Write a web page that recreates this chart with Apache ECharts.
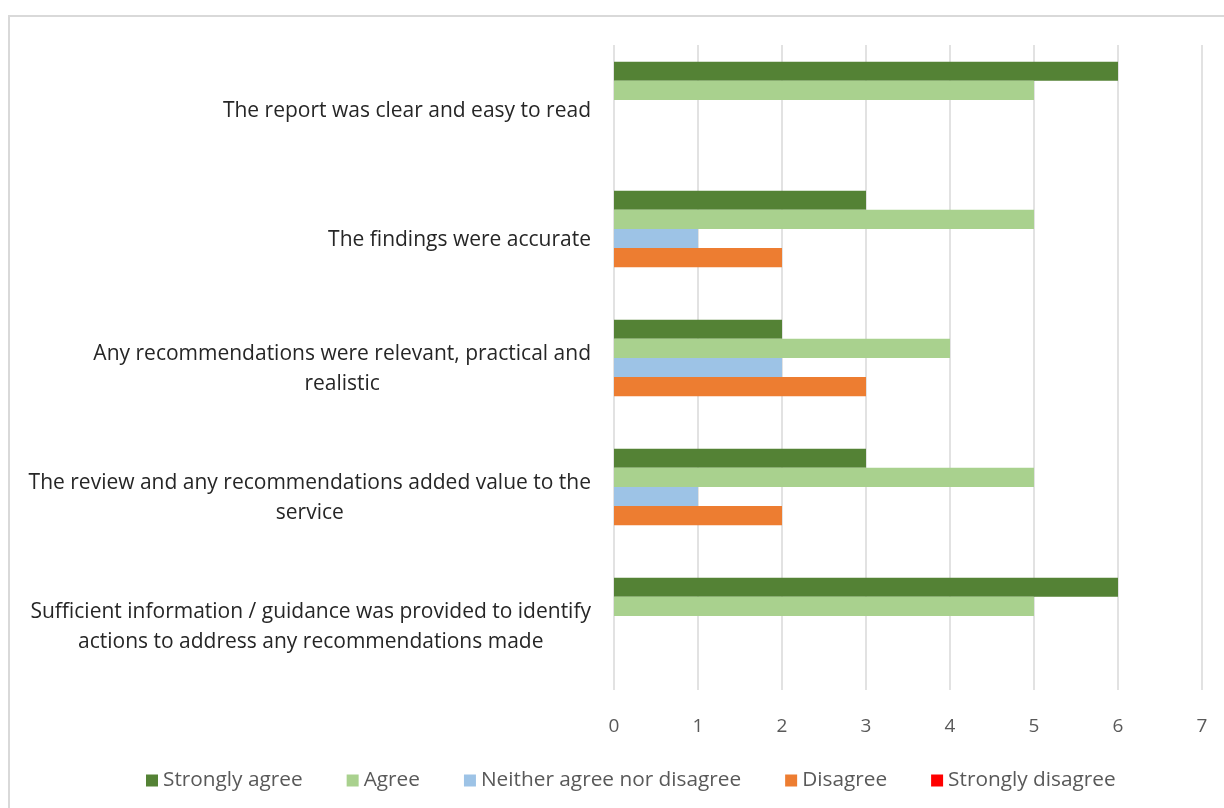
<!DOCTYPE html>
<html>
<head>
<meta charset="utf-8">
<script src="https://cdn.jsdelivr.net/npm/echarts@6/dist/echarts.min.js"></script>
<style>
  html, body { margin: 0; padding: 0; background: #fff; }
  #chart { width: 1224px; height: 808px; }
</style>
</head>
<body>
<div id="chart"></div>
<script>
// Survey statements, listed top to bottom
var categories = [
  'The report was clear and easy to read',
  'The findings were accurate',
  'Any recommendations were relevant, practical and\nrealistic',
  'The review and any recommendations added value to the\nservice',
  'Sufficient information / guidance was provided to identify\nactions to address any recommendations made'
];

// Response counts per statement
var stronglyAgree    = [6, 3, 2, 3, 6];
var agree            = [5, 5, 4, 5, 5];
var neither          = [0, 1, 2, 1, 0];
var disagree         = [0, 2, 3, 2, 0];
var stronglyDisagree = [0, 0, 0, 0, 0];

var xTicks = [0, 1, 2, 3, 4, 5, 6, 7];

var seriesDefs = [
  { name: 'Strongly agree', data: stronglyAgree, color: '#548235' },
  { name: 'Agree', data: agree, color: '#A9D18E' },
  { name: 'Neither agree nor disagree', data: neither, color: '#9DC3E6' },
  { name: 'Disagree', data: disagree, color: '#ED7D31' },
  { name: 'Strongly disagree', data: stronglyDisagree, color: '#FF0000' }
];

var chart = echarts.init(document.getElementById('chart'), null, { renderer: 'canvas' });

var FONT = '"Open Sans", "Noto Sans", sans-serif';

chart.setOption({
  animation: false,
  backgroundColor: '#fff',
  graphic: [{
    type: 'rect',
    shape: { x: 9, y: 16, width: 1240, height: 820 },
    style: { fill: 'none', stroke: '#d9d9d9', lineWidth: 2 },
    silent: true
  }],
  grid: { left: 614, right: 22, top: 45, bottom: 118, containLabel: false },
  legend: {
    bottom: 12,
    left: 141,
    icon: 'rect',
    itemWidth: 12,
    itemHeight: 12,
    itemGap: 44,
    textStyle: { fontFamily: FONT, fontSize: 20.8, color: '#595959' },
    data: seriesDefs.map(function (s) { return s.name; })
  },
  xAxis: {
    type: 'value',
    min: xTicks[0],
    max: xTicks[xTicks.length - 1],
    interval: 1,
    axisLine: { show: false },
    axisTick: { show: false },
    splitLine: { lineStyle: { color: '#d9d9d9', width: 1.5 } },
    axisLabel: { fontFamily: FONT, fontSize: 19, color: '#595959', margin: 27 }
  },
  yAxis: {
    type: 'category',
    inverse: true,
    data: categories,
    axisLine: { show: false },
    axisTick: { show: false },
    axisLabel: {
      margin: 23,
      align: 'right',
      color: '#262626',
      fontFamily: FONT,
      fontSize: 21,
      lineHeight: 30,
      padding: [4, 0, 0, 0],
      formatter: function (v) {
        return v.split('\n').map(function (l) { return '{c|' + l + '}'; }).join('\n');
      },
      rich: {
        c: { align: 'center', fontFamily: FONT, fontSize: 21, lineHeight: 30, color: '#262626' }
      }
    }
  },
  series: seriesDefs.map(function (s) {
    return {
      name: s.name,
      type: 'bar',
      data: s.data,
      barGap: '0%',
      barCategoryGap: '26%',
      itemStyle: { color: s.color },
      emphasis: { disabled: true }
    };
  })
});
</script>
</body>
</html>
